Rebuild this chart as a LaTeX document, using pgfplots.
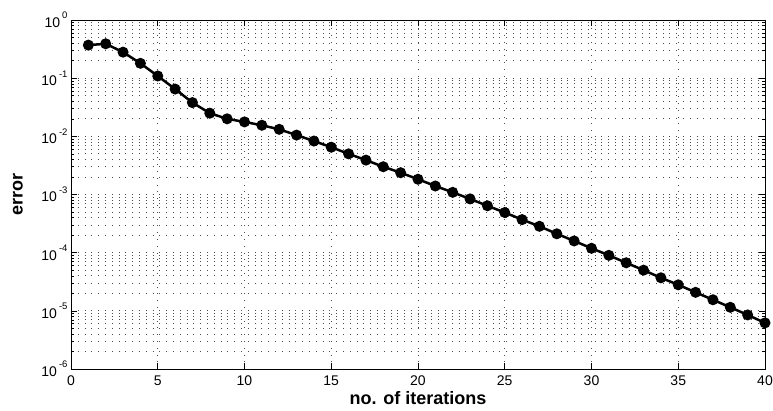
\documentclass[border=0pt]{standalone}
\usepackage{fontspec}
\setmainfont{Liberation Sans}
\usepackage{pgfplots}
\pgfplotsset{compat=1.18}
\pgfplotstableread{
x y
1 0.37
2 0.39
3 0.28
4 0.18
5 0.109
6 0.065
7 0.038
8 0.025
9 0.020
10 0.0177
11 0.0155
12 0.0132
13 0.0105
14 0.0083
15 0.0065
16 0.0050
17 0.0039
18 0.0030
19 0.00237
20 0.00183
21 0.00140
22 0.00109
23 0.00084
24 0.00064
25 0.00049
26 0.00037
27 0.000284
28 0.000211
29 0.000159
30 0.000119
31 0.000090
32 0.000067
33 0.000050
34 0.000037
35 0.000028
36 0.0000208
37 0.0000155
38 0.0000115
39 0.0000085
40 0.0000062
}\errdata
\newcommand{\ep}[1]{10\hspace{2pt}\raisebox{8.5pt}{\fontsize{9.5}{10}\selectfont #1}}
\begin{document}
\begin{tikzpicture}
\path[use as bounding box] (-71pt,-42pt) rectangle (702pt,369pt);
\begin{semilogyaxis}[
  at={(0pt,0pt)}, anchor=south west,
  scale only axis, width=694pt, height=349pt,
  xmin=0, xmax=40, ymin=1e-6, ymax=1,
  xtick={0,5,...,40},
  /pgf/number format/assume math mode=true,
  ytick={1e-6,1e-5,1e-4,1e-3,1e-2,1e-1,1},
  yticklabels={\ep{-6},\ep{-5},\ep{-4},\ep{-3},\ep{-2},\ep{-1},\ep{0}},
  minor ytick={2e-6,3e-6,4e-6,5e-6,6e-6,7e-6,8e-6,9e-6,
               2e-5,3e-5,4e-5,5e-5,6e-5,7e-5,8e-5,9e-5,
               2e-4,3e-4,4e-4,5e-4,6e-4,7e-4,8e-4,9e-4,
               2e-3,3e-3,4e-3,5e-3,6e-3,7e-3,8e-3,9e-3,
               2e-2,3e-2,4e-2,5e-2,6e-2,7e-2,8e-2,9e-2,
               2e-1,3e-1,4e-1,5e-1,6e-1,7e-1,8e-1,9e-1},
  tick align=inside,
  major tick length=6pt, minor tick length=3.5pt,
  xmajorgrids, ymajorgrids, yminorgrids,
  major grid style={black!70, line width=0.7pt, dash pattern=on 0.8pt off 6pt},
  minor grid style={black!70, line width=0.7pt, dash pattern=on 0.8pt off 6pt},
  axis line style={black, line width=0.8pt},
  every tick/.style={black, line width=0.6pt},
  every tick label/.append style={font=\fontsize{14}{16}\selectfont},
  xticklabel style={yshift=-3pt},
  yticklabel style={xshift=0pt},
  xlabel={no. of iterations},
  ylabel={error},
  label style={font=\fontsize{18}{20}\selectfont\bfseries},
  xlabel style={at={(axis description cs:0.5,-0.083)}, anchor=center},
  ylabel style={at={(axis description cs:-0.0764,0.5)}, anchor=center},
]
\addplot[black, line width=2.5pt, mark=*, mark size=4.2pt] table[x=x,y=y] {\errdata};
\end{semilogyaxis}
\end{tikzpicture}
\end{document}
